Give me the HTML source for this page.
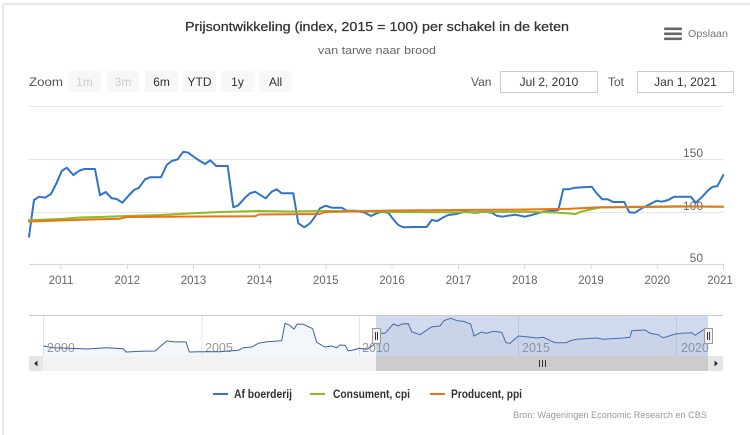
<!DOCTYPE html>
<html>
<head>
<meta charset="utf-8">
<style>
  html, body { margin:0; padding:0; background:#fff; }
  body { width:750px; height:435px; overflow:hidden; }
  svg { display:block; font-family:"Liberation Sans", "DejaVu Sans", sans-serif; }
</style>
</head>
<body>
<svg width="750" height="435" viewBox="0 0 750 435" xmlns="http://www.w3.org/2000/svg">
  <rect x="0" y="0" width="750" height="435" fill="#fff"/>
  <!-- container border -->
  <line x1="3" y1="4" x2="750" y2="4" stroke="#e8e8e8" stroke-width="2"/>
  <line x1="3" y1="4" x2="3" y2="435" stroke="#e8e8e8" stroke-width="2"/>

  <!-- title -->
  <text x="185" y="31" font-size="13" fill="#333" textLength="384" lengthAdjust="spacingAndGlyphs" style="stroke:#333;stroke-width:0.25">Prijsontwikkeling (index, 2015 = 100) per schakel in de keten</text>
  <text x="318" y="54" font-size="11" fill="#666" textLength="118" lengthAdjust="spacingAndGlyphs">van tarwe naar brood</text>

  <!-- export -->
  <rect x="664" y="27.5" width="18" height="2.6" fill="#666" rx="1"/>
  <rect x="664" y="32.5" width="18" height="2.6" fill="#666" rx="1"/>
  <rect x="664" y="37.5" width="18" height="2.6" fill="#666" rx="1"/>
  <text x="688" y="37" font-size="10" fill="#777" textLength="40" lengthAdjust="spacingAndGlyphs">Opslaan</text>

  <!-- range selector -->
  <text x="29" y="86" font-size="12" fill="#555" textLength="34" lengthAdjust="spacingAndGlyphs">Zoom</text>
  <g font-size="12" text-anchor="middle">
    <rect x="68" y="71" width="33" height="21" fill="#f7f7f7"/>
    <text x="84.5" y="86" fill="#ccc">1m</text>
    <rect x="107" y="71" width="32" height="21" fill="#f7f7f7"/>
    <text x="123" y="86" fill="#ccc">3m</text>
    <rect x="145" y="71" width="33" height="21" fill="#f7f7f7"/>
    <text x="161.5" y="86" fill="#333">6m</text>
    <rect x="183" y="71" width="33" height="21" fill="#f7f7f7"/>
    <text x="199.5" y="86" fill="#333">YTD</text>
    <rect x="221" y="71" width="33" height="21" fill="#f7f7f7"/>
    <text x="237.5" y="86" fill="#333">1y</text>
    <rect x="259" y="71" width="33" height="21" fill="#f7f7f7"/>
    <text x="275.5" y="86" fill="#333">All</text>
  </g>
  <text x="471" y="86" font-size="12" fill="#555">Van</text>
  <rect x="500.5" y="71.5" width="97" height="21" fill="#fff" stroke="#ccc" stroke-width="1"/>
  <text x="549" y="86" font-size="12" fill="#333" text-anchor="middle">Jul 2, 2010</text>
  <text x="608" y="86" font-size="12" fill="#555">Tot</text>
  <rect x="637.5" y="71.5" width="96" height="21" fill="#fff" stroke="#ccc" stroke-width="1"/>
  <text x="685.5" y="86" font-size="12" fill="#333" text-anchor="middle">Jan 1, 2021</text>

  <!-- grid -->
  <g stroke="#e6e6e6" stroke-width="1">
    <line x1="29" y1="106.5" x2="723" y2="106.5"/>
    <line x1="29" y1="159.5" x2="723" y2="159.5"/>
    <line x1="29" y1="212.5" x2="723" y2="212.5"/>
  </g>
  <!-- x axis -->
  <line x1="29" y1="264.5" x2="724" y2="264.5" stroke="#ccd6eb" stroke-width="1"/>
  <g stroke="#ccd6eb" stroke-width="1">
    <line x1="61" y1="264" x2="61" y2="269"/>
    <line x1="127.3" y1="264" x2="127.3" y2="269"/>
    <line x1="193.5" y1="264" x2="193.5" y2="269"/>
    <line x1="259.5" y1="264" x2="259.5" y2="269"/>
    <line x1="325.8" y1="264" x2="325.8" y2="269"/>
    <line x1="392" y1="264" x2="392" y2="269"/>
    <line x1="458.5" y1="264" x2="458.5" y2="269"/>
    <line x1="524.7" y1="264" x2="524.7" y2="269"/>
    <line x1="591" y1="264" x2="591" y2="269"/>
    <line x1="657.3" y1="264" x2="657.3" y2="269"/>
    <line x1="723.5" y1="264" x2="723.5" y2="269"/>
  </g>
  <g font-size="11.5" fill="#666" text-anchor="middle">
    <text x="61" y="284">2011</text>
    <text x="127.3" y="284">2012</text>
    <text x="193.5" y="284">2013</text>
    <text x="259.5" y="284">2014</text>
    <text x="325.8" y="284">2015</text>
    <text x="392" y="284">2016</text>
    <text x="458.5" y="284">2017</text>
    <text x="524.7" y="284">2018</text>
    <text x="591" y="284">2019</text>
    <text x="657.3" y="284">2020</text>
    <text x="720" y="284">2021</text>
  </g>
  <g font-size="12" fill="#666" text-anchor="end">
    <text x="703" y="157">150</text>
    <text x="703" y="210">100</text>
    <text x="703" y="262">50</text>
  </g>

  <!-- series -->
  <g fill="none" stroke-width="2" stroke-linejoin="round" stroke-linecap="round">
    <polyline stroke="#2f74c6" points="29,236.7 34,200 39,196.7 45,197.7 51,194 56.7,182.7 61.7,171 66.7,167.7 73.3,175 79.3,170.7 84.3,169 95,169 100,195.3 105.7,192 111.7,198.3 116.7,199 122.3,202.7 128.3,196 134,190 139,187.7 145,179.3 150,177.3 161,177.3 166.7,165 171.7,161 177.7,159.3 183.3,151.7 188.3,152.7 195,157.7 200,161 205,164 210.3,160.3 216.3,166 227.7,166 233.3,207.3 238.3,205.3 245,197.7 250,193.3 255,191.7 265.7,198.3 271.7,191.7 276.7,189.3 281.7,193.3 293.3,193.3 298.3,223.3 304.3,227.3 310,223.3 315,216.7 320,208.3 325.7,205.7 331.7,207.7 341.7,207.7 346.7,210.7 355,210.7 365,212.7 371,216 376.7,213.3 381.7,211.7 388.3,212.7 393.3,219.3 398.3,225 403.3,227.3 415,227 426.7,227 431.7,220 437.3,221 443.3,217.3 448.3,215 455,214.3 465,211.7 475,212.7 485,211.7 491.7,212.7 496.7,215.7 502.3,216.7 508.3,215.7 515,214.7 525,216.7 531.7,215 543.3,211.7 558.3,210 563.3,189.3 568.3,189.3 575,187.7 591.7,186.7 596.7,193.3 602.3,199.3 607.7,199.3 613.3,202 624.3,202 629.3,212.3 635,212.7 641.7,208.3 646.7,205.7 651.7,203.3 656.7,200.7 661.7,201.7 668.3,200 674,196.7 690.7,196.7 695.7,202.7 701.7,197.3 707.7,190.7 712.7,186.7 717.3,186.3 723.3,175"/>
    <polyline stroke="#8bbc21" points="29,220.3 60,219 80,217.5 100,217 127,216 160,215 193,213.3 220,212 259,211 290,211.5 325,211 360,211.3 392,212 430,212.2 458,212.3 490,212 525,211.7 555,212.5 570,213.5 575,214.2 580,212 590,209.5 600,207.5 640,206.7 680,206.2 723,206.8"/>
    <polyline stroke="#e8731c" points="29,221.5 60,220.5 90,219.5 120,218.7 127,217 200,216.5 255,216.3 259,214.5 320,214 325,212 360,211.3 392,210.5 430,210.3 460,210 500,209.8 540,209.3 570,208.8 590,207.8 600,207.3 650,207 690,206.5 723,206.8"/>
  </g>

  <!-- navigator -->
  <line x1="29" y1="315.5" x2="723" y2="315.5" stroke="#cccccc" stroke-width="1"/>
  <g stroke="#e6e6e6" stroke-width="1">
    <line x1="43.5" y1="316" x2="43.5" y2="356"/>
    <line x1="202" y1="316" x2="202" y2="356"/>
    <line x1="359.5" y1="316" x2="359.5" y2="356"/>
    <line x1="518.5" y1="316" x2="518.5" y2="356"/>
    <line x1="676.5" y1="316" x2="676.5" y2="356"/>
  </g>
  <polygon fill="rgba(69,114,167,0.06)" stroke="none" points="43.3,346 53.3,347.7 70,348.3 86.7,349 106.7,347.7 123.3,348.7 126,352 140,351.3 155,351 160,346.7 166.7,341 173.3,341.7 186,342 189.3,352 200,351.7 220,351.7 238.3,350.3 243.3,347.7 251.7,347 258.3,343.3 266.7,341.7 281.7,340.7 285,323.3 289.3,325 294,329 297.3,324 303.3,324.3 312.7,328.7 316.7,342.3 325,347 331.7,346 336.7,347.7 340,345 345,345.3 348.3,350.7 353.3,350 359.3,348.3 366.7,349.3 373.3,345 376.7,333.3 385,333.3 393.3,324 398.3,326 401.7,324 408.3,323.7 411.7,331.7 420,334.7 431.7,326.7 440,326 444,320.7 450.7,318.3 457.3,320.7 463.3,321.3 470.7,324 474,336 481.7,332 486.7,333.3 493.3,331.3 501.7,332.3 506,342.7 510,343.3 518.3,336 526.7,336.7 536.7,338 543.3,337.3 555,342.7 566.7,342.7 570,340.7 576.7,339.3 596.7,338 603.3,339.3 623.3,338 630,337.3 631.7,330.7 645,330 650,333.3 658.3,334.7 663.3,338 675,334 681.7,333.3 691.7,332.7 695,335.3 703.3,330 708,329 708,356 43.3,356"/>
  <g font-size="12.5" fill="#999">
    <text x="47" y="352">2000</text>
    <text x="205" y="352">2005</text>
    <text x="362" y="352">2010</text>
    <text x="522" y="352">2015</text>
    <text x="681" y="352">2020</text>
  </g>
  <polyline fill="none" stroke="#3a5fa6" stroke-width="1" points="43.3,346 53.3,347.7 70,348.3 86.7,349 106.7,347.7 123.3,348.7 126,352 140,351.3 155,351 160,346.7 166.7,341 173.3,341.7 186,342 189.3,352 200,351.7 220,351.7 238.3,350.3 243.3,347.7 251.7,347 258.3,343.3 266.7,341.7 281.7,340.7 285,323.3 289.3,325 294,329 297.3,324 303.3,324.3 312.7,328.7 316.7,342.3 325,347 331.7,346 336.7,347.7 340,345 345,345.3 348.3,350.7 353.3,350 359.3,348.3 366.7,349.3 373.3,345 376.7,333.3 385,333.3 393.3,324 398.3,326 401.7,324 408.3,323.7 411.7,331.7 420,334.7 431.7,326.7 440,326 444,320.7 450.7,318.3 457.3,320.7 463.3,321.3 470.7,324 474,336 481.7,332 486.7,333.3 493.3,331.3 501.7,332.3 506,342.7 510,343.3 518.3,336 526.7,336.7 536.7,338 543.3,337.3 555,342.7 566.7,342.7 570,340.7 576.7,339.3 596.7,338 603.3,339.3 623.3,338 630,337.3 631.7,330.7 645,330 650,333.3 658.3,334.7 663.3,338 675,334 681.7,333.3 691.7,332.7 695,335.3 703.3,330 708,329"/>
  <!-- selection mask -->
  <rect x="376" y="316" width="332" height="40" fill="rgba(102,133,194,0.3)"/>
  <!-- handles -->
  <g>
    <rect x="372.5" y="328.5" width="8" height="15" fill="#f2f2f2" stroke="#999" stroke-width="1"/>
    <line x1="375.5" y1="332" x2="375.5" y2="340" stroke="#333" stroke-width="1"/>
    <line x1="377.5" y1="332" x2="377.5" y2="340" stroke="#333" stroke-width="1"/>
    <rect x="704.5" y="328.5" width="8" height="15" fill="#f2f2f2" stroke="#999" stroke-width="1"/>
    <line x1="707.5" y1="332" x2="707.5" y2="340" stroke="#333" stroke-width="1"/>
    <line x1="709.5" y1="332" x2="709.5" y2="340" stroke="#333" stroke-width="1"/>
  </g>

  <!-- scrollbar -->
  <rect x="43" y="356" width="665" height="15" fill="#f2f2f2"/>
  <rect x="376" y="356" width="332" height="15" fill="#cccccc"/>
  <g stroke="#333" stroke-width="1">
    <line x1="539.5" y1="360" x2="539.5" y2="367"/>
    <line x1="542.5" y1="360" x2="542.5" y2="367"/>
    <line x1="545.5" y1="360" x2="545.5" y2="367"/>
  </g>
  <rect x="29" y="356" width="14" height="15" fill="#e6e6e6"/>
  <polygon points="34,363.5 37.5,360.5 37.5,366.5" fill="#333"/>
  <rect x="708" y="356" width="15" height="15" fill="#e6e6e6"/>
  <polygon points="718,363.5 714.5,360.5 714.5,366.5" fill="#333"/>

  <!-- legend -->
  <g font-size="12" font-weight="bold" fill="#333">
    <line x1="213" y1="394" x2="228" y2="394" stroke="#2f74c6" stroke-width="2"/>
    <text x="234" y="398" textLength="58" lengthAdjust="spacingAndGlyphs">Af boerderij</text>
    <line x1="310" y1="394" x2="325" y2="394" stroke="#8bbc21" stroke-width="2"/>
    <text x="333" y="398" textLength="77" lengthAdjust="spacingAndGlyphs">Consument, cpi</text>
    <line x1="430" y1="394" x2="445" y2="394" stroke="#e8731c" stroke-width="2"/>
    <text x="451" y="398" textLength="71" lengthAdjust="spacingAndGlyphs">Producent, ppi</text>
  </g>
  <!-- credits -->
  <text x="513" y="418" font-size="9.5" fill="#999" textLength="194" lengthAdjust="spacingAndGlyphs">Bron: Wageningen Economic Research en CBS</text>
</svg>
</body>
</html>
